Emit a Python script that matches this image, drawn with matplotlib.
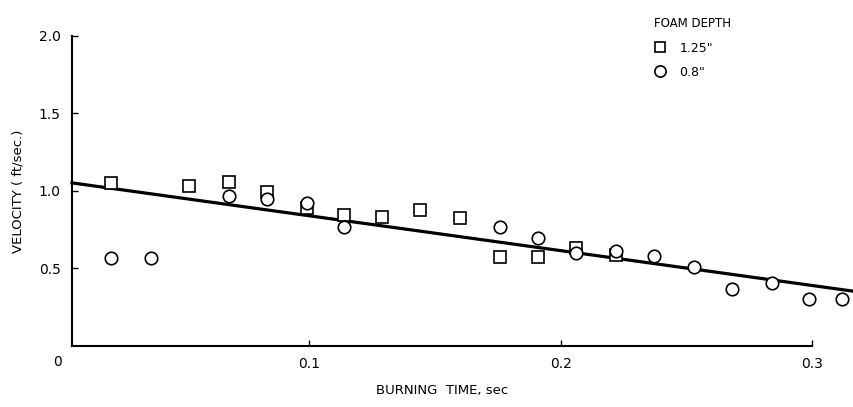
import numpy as np
import matplotlib.pyplot as plt

# foam depth 1.25 in (squares)
sq_t = [0.021, 0.052, 0.068, 0.083, 0.099, 0.114, 0.129, 0.144, 0.160, 0.176, 0.191, 0.206, 0.222]
sq_v = [1.05, 1.035, 1.06, 0.995, 0.89, 0.845, 0.83, 0.875, 0.823, 0.572, 0.572, 0.63, 0.585]

# foam depth 0.8 in (circles)
ci_t = [0.021, 0.037, 0.068, 0.083, 0.099, 0.114, 0.176, 0.191, 0.206, 0.222, 0.237, 0.253, 0.268, 0.284, 0.299, 0.312]
ci_v = [0.566, 0.566, 0.97, 0.95, 0.925, 0.77, 0.766, 0.695, 0.60, 0.61, 0.579, 0.508, 0.367, 0.405, 0.302, 0.302]

# fitted line
fit_t = [0.0056, 0.317]
fit_v = [1.052, 0.352]

fig = plt.figure(figsize=(8.54, 4.07), dpi=100)
ax = fig.add_axes([0.0843, 0.150, 0.8665, 0.7617])

ax.plot(fit_t, fit_v, color='black', lw=2.3, clip_on=False, zorder=2)
ax.plot(sq_t, sq_v, 's', mfc='white', mec='black', ms=8, mew=1.2, clip_on=False,
        zorder=3, label='1.25"')
ax.plot(ci_t, ci_v, 'o', mfc='white', mec='black', ms=9, mew=1.2, clip_on=False,
        zorder=3, label='0.8"')

ax.set_xlim(0.0056, 0.3)
ax.set_ylim(0, 2.0)
ax.set_xticks([0.1, 0.2, 0.3])
ax.set_xticklabels(['0.1', '0.2', '0.3'])
ax.set_yticks([0.5, 1.0, 1.5, 2.0])
ax.set_yticklabels(['0.5', '1.0', '1.5', '2.0'])
ax.tick_params(direction='in', length=4, width=1, labelsize=10, pad=8)
ax.text(0.0, -0.06, '0', fontsize=10, ha='center', va='top', clip_on=False)

for s in ['top', 'right']:
    ax.spines[s].set_visible(False)
for s in ['left', 'bottom']:
    ax.spines[s].set_linewidth(1.5)

ax.set_xlabel('BURNING  TIME, sec', fontsize=9.5, labelpad=9)
ax.set_ylabel('VELOCITY ( ft/sec.)', fontsize=9.5, labelpad=10)

leg = ax.legend(title='FOAM DEPTH', loc='upper left', frameon=False,
                bbox_to_anchor=(643 / 854, 1 - 6 / 407), bbox_transform=fig.transFigure,
                fontsize=9, title_fontsize=8.5, handlelength=1.0, handletextpad=1.0,
                labelspacing=0.9, markerscale=0.9)
leg._legend_box.align = 'left'

fig.savefig('out.png', dpi=100)
